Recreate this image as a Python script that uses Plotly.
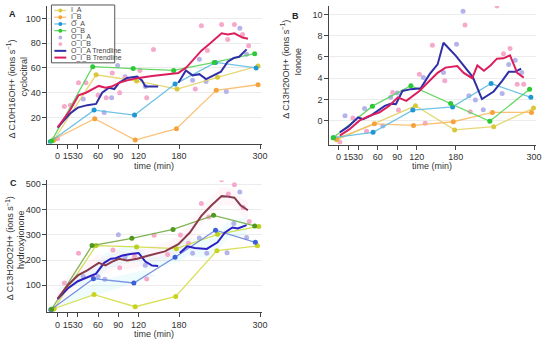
import plotly.graph_objects as go

W, H = 550, 341

# ---------------- data ----------------
x_tickvals = [0, 15, 30, 60, 90, 120, 180, 300]
x_ticktext = ["0", "15", "30", "60", "90", "120", "180", "300"]

series_names = ["I_A", "I_B", "O_A", "O_B", "O_I_A", "O_I_B", "O_I_A Trendline", "O_I_B Trendline"]

# Panel A : cyclocitral
tA_IA = [-6, 57, 117, 177, 237, 297]
vA_IA = [1.5, 54.5, 49.5, 43, 52.5, 61.5]
tA_IB = [-5, 55, 115, 176, 235, 297]
vA_IB = [2.5, 19, 1.8, 11, 42, 46.5]
tA_OA = [-11, 54, 114, 174, 234, 294]
vA_OA = [0.5, 26, 22, 47, 64.5, 60]
tA_OB = [-9, 52, 112, 172, 232, 292]
vA_OB = [1, 61, 59.5, 58, 64.5, 71.5]
tA_OIA = [-8, 38, 69, 80, 89, 100, 130, 200, 210, 220, 250, 270, 280]
vA_OIA = [1, 35, 24, 36, 62, 53, 45, 50, 67, 49, 41, 92, 71]
tA_OIB = [0, 10, 19, 31, 42, 60, 72, 81, 92, 100, 122, 132, 142, 204, 213, 222, 243, 252, 262, 274, 283]
vA_OIB = [3, 29, 30, 48, 48, 38, 36, 56, 40, 52, 58, 36, 75, 43, 94, 74, 95, 83, 95, 87, 78]
tA_TA = [0, 18, 30, 44, 57, 66, 76, 84, 91, 103, 118, 125, 130, 149, None, 179, 190, 200, 210, 220, 232, 242, 252, 261, 269, 280]
vA_TA = [12, 23, 28, 30, 31, 40, 44, 43, 48, 52, 53, 50, 45, 45, None, 48, 58, 54, 55, 51, 54, 57, 65, 68, 69, 75]
tA_TB = [0, 18, 31, 42, 61, 71, 80, 91, 103, 120, 140, 159, 179, 191, 203, 213, 224, 232, 243, 252, 262, 274, 282]
vA_TB = [12, 25.5, 38, 40, 45.5, 44, 45, 48, 50, 52, 53.5, 55, 56, 60.5, 68, 74, 79, 83, 88, 87, 88, 84.5, 83.5]

# Panel B : ionone
tB_IA = [-3, 118, 178, 238, 299]
vB_IA = [-1.8, 1.4, -0.87, -0.56, 1.19]
tB_IB = [-3, 55, 115, 176, 236, 296]
vB_IB = [-1.7, -0.3, -0.45, -0.1, 0.78, 0.78]
tB_OA = [-8, 53, 114, 175, 234, 295]
vB_OA = [-1.6, -1.1, 1.0, 1.3, 3.5, 2.2]
tB_OB = [-8, 52, 111, 172, 232, 293]
vB_OB = [-1.6, 1.37, 3.3, 1.63, -0.06, 2.97]
tB_OIA = [10, 40, 68, 80, 90, 130, 161, 181, 191, 200, 210, 222, 251, 261, 271, 281]
vB_OIA = [0.47, 1.15, -0.5, 2.2, 2.6, 4.06, 4.53, 7.2, 10.3, 2.34, 1.94, 1.03, 2.56, 5.3, 5.7, 4.53]
tB_OIB = [2, 22, 43, 83, 92, 124, 133, 144, 163, 194, 202, 243, 253, 263, 274, 284]
vB_OIB = [-2.0, 0.25, -1.0, 2.65, 1.0, 4.37, -0.25, 7.1, 3.75, 9.0, 0.84, 10.8, 6.3, 6.8, 3.44, 3.44]
tB_TA = [2, 15, 30, 38, 50, 63, 71, 80, 88, 98, 111, 126, 140, 152, 161, 180, 192, 206, 220, 238, 251, 261, 271, 280]
vB_TA = [-1.1, -0.56, 0.3, 0.15, 0.5, 1.1, 1.4, 1.6, 1.56, 2.8, 2.97, 3.06, 4.4, 5.3, 7.34, 6.1, 5.15, 4.1, 2.03, 2.75, 3.75, 4.6, 4.6, 4.9]
tB_TB = [2, 17, 32, 48, 63, 78, 91, 104, 124, 140, 152, 164, 182, 192, 205, 213, 223, 233, 243, 253, 263, 274, 284]
vB_TB = [-1.4, -0.8, 0, 0.47, 0.78, 1.4, 2.2, 1.87, 2.8, 3.8, 4.5, 5.0, 5.15, 4.5, 4.0, 5.2, 4.7, 5.2, 5.84, 5.87, 6.15, 4.5, 4.06]

# Panel C : hydroxyionone
tC_IA = [-6, 57, 117, 176, 237, 298]
vC_IA = [5, 257, 252, 245, 302, 333]
tC_IB = [-5, 54, 115, 175, 236, 296]
vC_IB = [8, 63, 15, 56, 237, 256]
tC_OA = [-10, 53, 113, 174, 234, 293]
vC_OA = [3, 126, 109, 211, 318, 270]
tC_OB = [-9, 51, 110, 171, 231, 292]
vC_OB = [5, 257, 286, 321, 377, 335]
tC_OIA = [-8, 38, 60, 70, 90, 100, 130, 200, 210, 221, 251, 261, 270, 280]
vC_OIA = [3, 135, 135, 124, 300, 212, 179, 227, 287, 227, 229, 345, 469, 289]
tC_OIB = [10, 31, 53, 82, 92, 114, 132, 143, 163, 182, 194, 213, 224, 243, 253, 262, 275, 284]
vC_OIB = [109, 227, 132, 240, 169, 215, 125, 298, 222, 299, 266, 424, 370, 518, 461, 498, 408, 353]
tC_TA = [0, 15, 30, 44, 57, 69, 79, 86, 96, 108, 120, 130, 140, 149, None, 181, 192, 203, 221, 237, 248, 259, 267, 280]
vC_TA = [45, 87, 116, 132, 146, 189, 205, 207, 218, 224, 228, 194, 178, 176, None, 228, 254, 248, 244, 270, 309, 329, 325, 338]
tC_TB = [0, 15, 30, 44, 61, 71, 81, 91, 103, 118, 135, 159, 179, 196, 213, 227, 243, 250, 262, 271, 282]
vC_TB = [47, 100, 139, 159, 189, 179, 194, 205, 198, 205, 218, 234, 263, 309, 375, 414, 453, 452, 447, 417, 397]

# ---------------- styles ----------------
FONT = "Liberation Sans, Arial, sans-serif"
AXC = "#444444"
TXT = "#333333"

colsAB = dict(
    IA=("#d8c83c", "rgba(224,208,90,0.85)"),
    IB=("#f6a23a", "rgba(250,182,95,0.85)"),
    OA=("#1f97d4", "rgba(95,188,226,0.9)"),
    OB=("#2bc935", "rgba(85,212,85,0.9)"),
    OIA="#b4b4ea", OIB="#f6aacb", TA="#2f2fa8", TB="#dc1f5c",
)
colsC = dict(
    IA=("#bccf1e", "rgba(205,218,70,0.9)"),
    IB=("#c9d21d", "rgba(214,220,70,0.9)"),
    OA=("#3b5fd6", "rgba(105,135,225,0.9)"),
    OB=("#4f9a1e", "rgba(115,170,65,0.9)"),
    OIA="#b4b4ea", OIB="#f6aacb", TA="#2c1fc4", TB="#8a3b4e",
)

fig = go.Figure()


def add_panel(xa, ya, cols, series, ribbons=False):
    (tIA, vIA, tIB, vIB, tOA, vOA, tOB, vOB, tOIA, vOIA, tOIB, vOIB, tTA, vTA, tTB, vTB) = series
    common = dict(xaxis=xa, yaxis=ya, showlegend=False, hoverinfo="skip")
    if ribbons:
        for tt, vv, fc in ((tTB, vTB, "rgba(255,212,230,0.2)"), (tTA, vTA, "rgba(175,238,246,0.2)")):
            up = [None if v is None else v + 35 for v in vv]
            lo = [None if v is None else v - 35 for v in vv]
            fig.add_trace(go.Scatter(x=tt, y=lo, mode="lines", line=dict(width=0), **common))
            fig.add_trace(go.Scatter(x=tt, y=up, mode="lines", line=dict(width=0),
                                     fill="tonexty", fillcolor=fc, **common))
    fig.add_trace(go.Scatter(x=tOIA, y=vOIA, mode="markers",
                             marker=dict(color=cols["OIA"], size=5), **common))
    fig.add_trace(go.Scatter(x=tOIB, y=vOIB, mode="markers",
                             marker=dict(color=cols["OIB"], size=5), **common))
    for (tt, vv, key) in ((tIA, vIA, "IA"), (tIB, vIB, "IB"), (tOA, vOA, "OA"), (tOB, vOB, "OB")):
        mc, lc = cols[key]
        fig.add_trace(go.Scatter(x=tt, y=vv, mode="lines+markers",
                                 line=dict(color=lc, width=1.3),
                                 marker=dict(color=mc, size=5), **common))
    fig.add_trace(go.Scatter(x=tTA, y=vTA, mode="lines", connectgaps=False,
                             line=dict(color=cols["TA"], width=2), **common))
    fig.add_trace(go.Scatter(x=tTB, y=vTB, mode="lines", connectgaps=False,
                             line=dict(color=cols["TB"], width=2), **common))


add_panel("x", "y", colsAB, (tA_IA, vA_IA, tA_IB, vA_IB, tA_OA, vA_OA, tA_OB, vA_OB,
                             tA_OIA, vA_OIA, tA_OIB, vA_OIB, tA_TA, vA_TA, tA_TB, vA_TB))
add_panel("x2", "y2", colsAB, (tB_IA, vB_IA, tB_IB, vB_IB, tB_OA, vB_OA, tB_OB, vB_OB,
                               tB_OIA, vB_OIA, tB_OIB, vB_OIB, tB_TA, vB_TA, tB_TB, vB_TB))
add_panel("x3", "y3", colsC, (tC_IA, vC_IA, tC_IB, vC_IB, tC_OA, vC_OA, tC_OB, vC_OB,
                              tC_OIA, vC_OIA, tC_OIB, vC_OIB, tC_TA, vC_TA, tC_TB, vC_TB),
          ribbons=True)


def px2x(px):
    return px / W


def px2y(py):
    return 1 - py / H


xaxis_common = dict(
    tickmode="array", tickvals=x_tickvals, ticktext=x_ticktext, tickangle=0,
    showline=True, linecolor=AXC, linewidth=1, ticks="outside", ticklen=4,
    tickcolor=AXC, showgrid=False, zeroline=False,
    tickfont=dict(size=9, color=TXT, family=FONT),
)
yaxis_common = dict(
    showline=True, linecolor=AXC, linewidth=1, ticks="outside", ticklen=4,
    tickcolor=AXC, showgrid=True, gridcolor="#ececec", gridwidth=1, zeroline=False,
    tickfont=dict(size=9, color=TXT, family=FONT),
)

fig.update_layout(
    width=W, height=H, margin=dict(l=0, r=0, t=0, b=0),
    paper_bgcolor="white", plot_bgcolor="white",
    font=dict(family=FONT, color=TXT),
    showlegend=False,
    xaxis=dict(domain=[px2x(48), px2x(265)], range=[-15, 303], anchor="y", **xaxis_common),
    yaxis=dict(domain=[px2y(143), px2y(5)], range=[-1, 110], anchor="x",
               tickvals=[20, 40, 60, 80, 100], **yaxis_common),
    xaxis2=dict(domain=[px2x(333), px2x(542)], range=[-14, 303], anchor="y2", **xaxis_common),
    yaxis2=dict(domain=[px2y(144), px2y(5)], range=[-2.25, 10.8], anchor="x2",
                tickvals=[0, 2, 4, 6, 8, 10], **yaxis_common),
    xaxis3=dict(domain=[px2x(48), px2x(265)], range=[-15, 303], anchor="y3", **xaxis_common),
    yaxis3=dict(domain=[px2y(311.7), px2y(180)], range=[-5, 515], anchor="x3",
                tickvals=[100, 200, 300, 400, 500], **yaxis_common),
)

ann = []
shapes = []


def text(px, py, s, size=9, angle=0, xanchor="center", bold=False, color=TXT):
    ann.append(dict(x=px2x(px), y=px2y(py), xref="paper", yref="paper", text=("<b>%s</b>" % s) if bold else s,
                    showarrow=False, textangle=angle, xanchor=xanchor, yanchor="middle",
                    font=dict(size=size, color=color, family=FONT)))


# panel letters
text(13, 13, "A", size=9, bold=True, color="#222")
text(299, 15, "B", size=9, bold=True, color="#222")
text(14, 183, "C", size=9, bold=True, color="#222")

# axis titles
text(156, 165, "time (min)", size=9)
text(437, 165, "time (min)", size=9)
text(156, 334, "time (min)", size=9)
text(11, 88, "Δ C10H16OH+ (ions s<sup>−1</sup>)", size=9, angle=-90)
text(24, 76, "cyclocitral", size=9, angle=-90)
text(288, 68, "Δ C13H20OH+ (ions s<sup>−1</sup>)", size=9, angle=-90)
text(301, 61, "Ionone", size=9, angle=-90)
text(10, 248, "Δ C13H20O2H+ (ions s<sup>−1</sup>)", size=9, angle=-90)
text(22, 239, "hydroxyionone", size=9, angle=-90)

# custom compact legend (panel A)
shapes.append(dict(type="rect", xref="paper", yref="paper",
                   x0=px2x(52), x1=px2x(116), y0=px2y(62), y1=px2y(4),
                   line=dict(color="#555555", width=1), fillcolor="white", layer="above"))
leg_items = [
    (colsAB["IA"][1], colsAB["IA"][0]),
    (colsAB["IB"][1], colsAB["IB"][0]),
    (colsAB["OA"][1], colsAB["OA"][0]),
    (colsAB["OB"][1], colsAB["OB"][0]),
    (None, colsAB["OIA"]),
    (None, colsAB["OIB"]),
    (colsAB["TA"], None),
    (colsAB["TB"], None),
]
for i, (name, (lc, mc)) in enumerate(zip(series_names, leg_items)):
    cy = 9.5 + i * 6.75
    if lc is not None:
        shapes.append(dict(type="line", xref="paper", yref="paper",
                           x0=px2x(55), x1=px2x(67), y0=px2y(cy), y1=px2y(cy),
                           line=dict(color=lc, width=1.3 if mc else 2), layer="above"))
    if mc is not None:
        r = 2.0
        shapes.append(dict(type="circle", xref="paper", yref="paper",
                           x0=px2x(61 - r), x1=px2x(61 + r), y0=px2y(cy + r), y1=px2y(cy - r),
                           line=dict(color=mc, width=0), fillcolor=mc, layer="above"))
    text(70, cy, name, size=7, xanchor="left", color="#444")

fig.update_layout(annotations=ann, shapes=shapes)

fig.write_html("out.html",
               config={"displayModeBar": False, "staticPlot": True},
               post_script="document.body.style.margin='0';document.body.style.overflow='hidden';")
